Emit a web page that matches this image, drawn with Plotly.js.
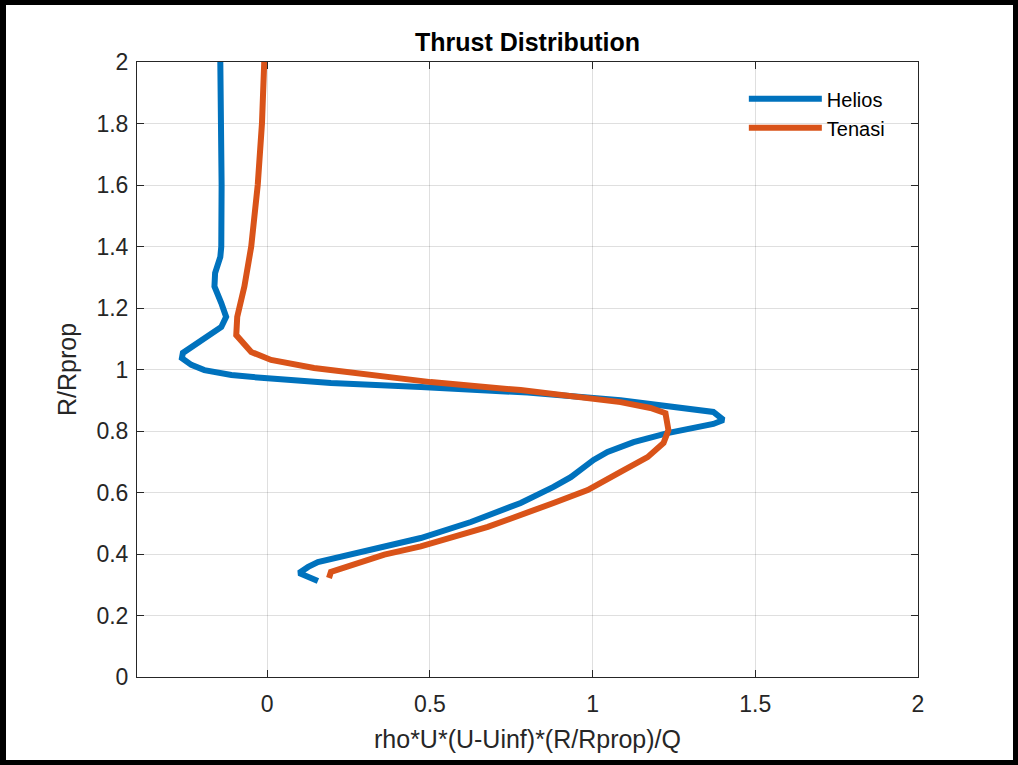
<!DOCTYPE html>
<html><head><meta charset="utf-8">
<script src="https://cdn.plot.ly/plotly-3.0.1.min.js"></script>
<style>
html,body{margin:0;padding:0;background:#000;}
#frame{position:relative;width:1018px;height:765px;background:#000;overflow:hidden;}
#plot{position:absolute;left:6px;top:5px;width:1007px;height:755px;background:#fff;}
</style></head><body>
<div id="frame"><div id="plot"></div></div>
<script>
const chartTitle = 'Thrust Distribution';
const xTitle = 'rho*U*(U-Uinf)*(R/Rprop)/Q';
const yTitle = 'R/Rprop';
const seriesNames = ['Helios', 'Tenasi'];

const heliosX = [-0.144, -0.140, -0.140, -0.141, -0.144, -0.160, -0.162, -0.141, -0.126, -0.141, -0.202, -0.259, -0.262, -0.233, -0.193, -0.110, -0.009, 0.196, 0.472, 0.800, 1.086, 1.371, 1.402, 1.371, 1.230, 1.126, 1.046, 1.003, 0.933, 0.880, 0.779, 0.626, 0.472, 0.359, 0.156, 0.126, 0.098, 0.156];
const heliosY = [2.000, 1.800, 1.600, 1.400, 1.366, 1.314, 1.270, 1.216, 1.171, 1.138, 1.096, 1.054, 1.037, 1.015, 0.998, 0.982, 0.972, 0.956, 0.943, 0.925, 0.900, 0.862, 0.836, 0.823, 0.793, 0.764, 0.732, 0.706, 0.650, 0.618, 0.566, 0.504, 0.452, 0.423, 0.374, 0.358, 0.338, 0.312];

const tenasiX = [-0.009, -0.016, -0.029, -0.049, -0.070, -0.092, -0.095, -0.049, 0.012, 0.144, 0.503, 0.779, 1.086, 1.178, 1.224, 1.233, 1.218, 1.169, 1.086, 0.985, 0.880, 0.678, 0.472, 0.360, 0.196, 0.190];
const tenasiY = [2.000, 1.800, 1.600, 1.400, 1.270, 1.171, 1.112, 1.057, 1.031, 1.005, 0.959, 0.933, 0.894, 0.875, 0.858, 0.803, 0.761, 0.715, 0.667, 0.608, 0.566, 0.488, 0.425, 0.398, 0.342, 0.322];

const xTickVals = [0, 0.5, 1, 1.5, 2];
const xTickText = ['0', '0.5', '1', '1.5', '2'];
const yTickVals = [0, 0.2, 0.4, 0.6, 0.8, 1, 1.2, 1.4, 1.6, 1.8, 2];
const yTickText = ['0', '0.2', '0.4', '0.6', '0.8', '1', '1.2', '1.4', '1.6', '1.8', '2'];

const FONT = 'Liberation Sans, Arial, Helvetica, sans-serif';
const AX = '#262626';
const GRID = 'rgba(38,38,38,0.15)';

const traces = [
  {x: heliosX, y: heliosY, name: seriesNames[0], type: 'scatter', mode: 'lines',
   line: {color: '#0072BD', width: 6}},
  {x: tenasiX, y: tenasiY, name: seriesNames[1], type: 'scatter', mode: 'lines',
   line: {color: '#D95319', width: 6}}
];

const axisCommon = {
  showline: true, linecolor: AX, linewidth: 1, mirror: 'ticks',
  ticks: 'inside', ticklen: 7, tickwidth: 1, tickcolor: AX,
  showgrid: true, gridcolor: GRID, gridwidth: 1, zeroline: false,
  tickfont: {family: FONT, size: 23, color: AX}, automargin: false
};

const layout = {
  width: 1007, height: 755,
  margin: {l: 131, r: 95, t: 57, b: 83},
  paper_bgcolor: '#ffffff', plot_bgcolor: '#ffffff',
  title: {text: chartTitle, x: 0.5, xref: 'paper', y: 1 - 37/755, yref: 'container', yanchor: 'middle',
          font: {family: FONT, size: 25, color: '#000000', weight: 'bold'}},
  xaxis: Object.assign({}, axisCommon, {
    range: [-0.4, 2], tickmode: 'array', tickvals: xTickVals, ticktext: xTickText,
    ticklabelstandoff: 6,
    title: {text: xTitle, font: {family: FONT, size: 25, color: AX}, standoff: 14}
  }),
  yaxis: Object.assign({}, axisCommon, {
    range: [0, 2], tickmode: 'array', tickvals: yTickVals, ticktext: yTickText,
    ticklabelstandoff: 3,
    title: {text: yTitle, font: {family: FONT, size: 25, color: AX}, standoff: 12}
  }),
  showlegend: true,
  legend: {x: 0.777, y: 0.972, xanchor: 'left', yanchor: 'top', bgcolor: 'rgba(255,255,255,0)',
           borderwidth: 0, itemwidth: 73, font: {family: FONT, size: 20, color: '#000000'}}
};

Plotly.newPlot('plot', traces, layout, {displayModeBar: false, staticPlot: true});
</script>
</body></html>
